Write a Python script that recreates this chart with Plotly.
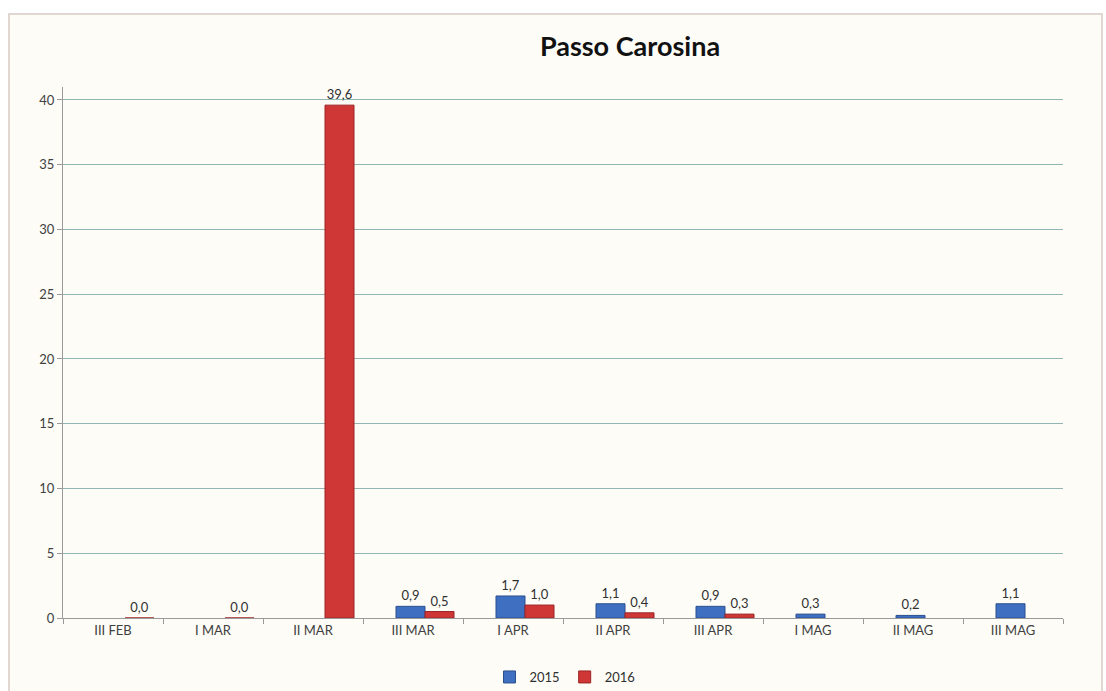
import plotly.graph_objects as go

categories = ['III FEB', 'I MAR', 'II MAR', 'III MAR', 'I APR',
              'II APR', 'III APR', 'I MAG', 'II MAG', 'III MAG']
values_2015 = [None, None, None, 0.9, 1.7, 1.1, 0.9, 0.3, 0.2, 1.1]
values_2016 = [0.0, 0.0, 39.6, 0.5, 1.0, 0.4, 0.3, None, None, None]

W, H = 1106, 691
font_family = 'Lato, "Open Sans", Arial'

fig = go.Figure()
fig.add_trace(go.Bar(x=categories, y=values_2015, name='2015',
                     marker=dict(color='#3f6fc0', line=dict(color='#2b4f8e', width=1)),
                     width=0.29, offset=-0.17,
                     texttemplate='%{y:.1f}', textposition='outside',
                     textfont=dict(size=13, color='#303030'), cliponaxis=False))
fig.add_trace(go.Bar(x=categories, y=values_2016, name='2016',
                     marker=dict(color='#cf3636', line=dict(color='#9c2424', width=1)),
                     width=0.29, offset=0.12,
                     texttemplate='%{y:.1f}', textposition='outside',
                     textfont=dict(size=13, color='#303030'), cliponaxis=False))

# chart frame (Excel style), off-white fill
fig.add_shape(type='rect', xref='paper', yref='paper',
              x0=(9 - 63) / 1000, x1=(1102 - 63) / 1000,
              y0=(618 - 695) / 531, y1=(618 - 14) / 531,
              line=dict(color='#d9c9c4', width=1.5), fillcolor='#fdfcf7', layer='below')

fig.update_layout(
    width=W, height=H,
    margin=dict(l=63, r=W - 1063, t=87, b=H - 618, autoexpand=False),
    paper_bgcolor='white', plot_bgcolor='#fdfcf7',
    separators=',.',
    barmode='overlay', bargap=0.3,
    font=dict(family=font_family, color='#404040', size=13),
    title=dict(text='<b>Passo Carosina</b>', x=630 / W, xanchor='center',
               y=1 - 47 / H, yanchor='middle', xref='container', yref='container',
               font=dict(size=27, color='#111111', family=font_family)),
    legend=dict(orientation='h', x=565 / W, xanchor='center', xref='container',
                y=1 - 677 / H, yanchor='middle', yref='container',
                font=dict(size=13, color='#303030'), itemwidth=30,
                bgcolor='rgba(0,0,0,0)'),
    xaxis=dict(range=[-0.5, 9.5], tickson='boundaries', ticks='outside', ticklen=5,
               tickcolor='#9a9a9a', showline=True, linecolor='#9a9a9a', linewidth=1,
               showgrid=False, tickfont=dict(size=13, color='#404040')),
    yaxis=dict(range=[0, 41], dtick=5, tick0=0, ticks='outside', ticklen=5,
               tickcolor='#9a9a9a', showline=True, linecolor='#9a9a9a', linewidth=1,
               showgrid=True, gridcolor='#93b5b3', gridwidth=1, zeroline=False,
               tickfont=dict(size=13, color='#404040')),
)

fig.write_html("out.html", config={'displayModeBar': False},
               post_script="document.body.style.margin='0';")
